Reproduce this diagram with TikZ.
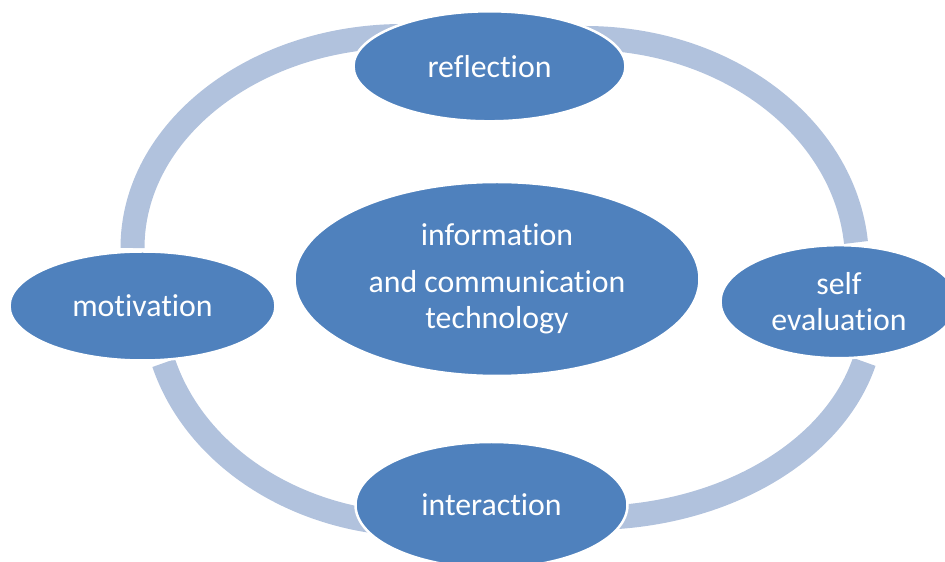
\documentclass[tikz,border=0pt]{standalone}
\usepackage{fontspec}
\setmainfont{Carlito}[Ligatures=NoCommon]
\usetikzlibrary{shapes.geometric}
\definecolor{cycblue}{HTML}{4F81BD}
\definecolor{cycring}{HTML}{B1C2DD}
\tikzset{sc/.style={x=1pt,y=1pt},
  bub/.style={ellipse,fill=cycblue,draw=white,line width=2.5pt,inner sep=0pt,
    text=white,align=center,font=\fontsize{31.8}{36.5}\selectfont},
  ring/.style={cycring,line width=24pt}}

\begin{document}
\begin{tikzpicture}[sc]
  \useasboundingbox (0,0) rectangle (945,562);
  \clip (0,0) rectangle (945,562);
  % ring pieces first, bubbles go on top
  \coordinate (tlend) at (132.5,314);
  \coordinate (trtop) at (585,524);
  \coordinate (blend) at (163.7,199);
  \coordinate (brbot) at (590,44);
  \draw[ring] (tlend) arc (180:90:270.6pt and 212pt);
  \draw[ring] (trtop) arc (90:5:272pt and 224pt);
  \draw[ring] (blend) arc (195.9:270:266.5pt and 222.7pt);
  \draw[ring] (brbot) arc (270:346:282.6pt and 206pt);
  % bubbles
  \node[bub,minimum width=272pt,minimum height=110pt] (refl) at (489.5,495.7) {reflection};
  \node[bub,minimum width=405pt,minimum height=194pt] (ict) at (497,283) {information\\[10pt]and communication\\technology};
  \node[bub,minimum width=266pt,minimum height=109pt] (motiv) at (142.5,256) {motivation};
  \node[bub,minimum width=237pt,minimum height=113pt] (selfev) at (839,260.3) {self\\evaluation};
  \node[bub,minimum width=272pt,minimum height=126pt] (inter) at (491.5,57) {interaction};
\end{tikzpicture}
\end{document}
